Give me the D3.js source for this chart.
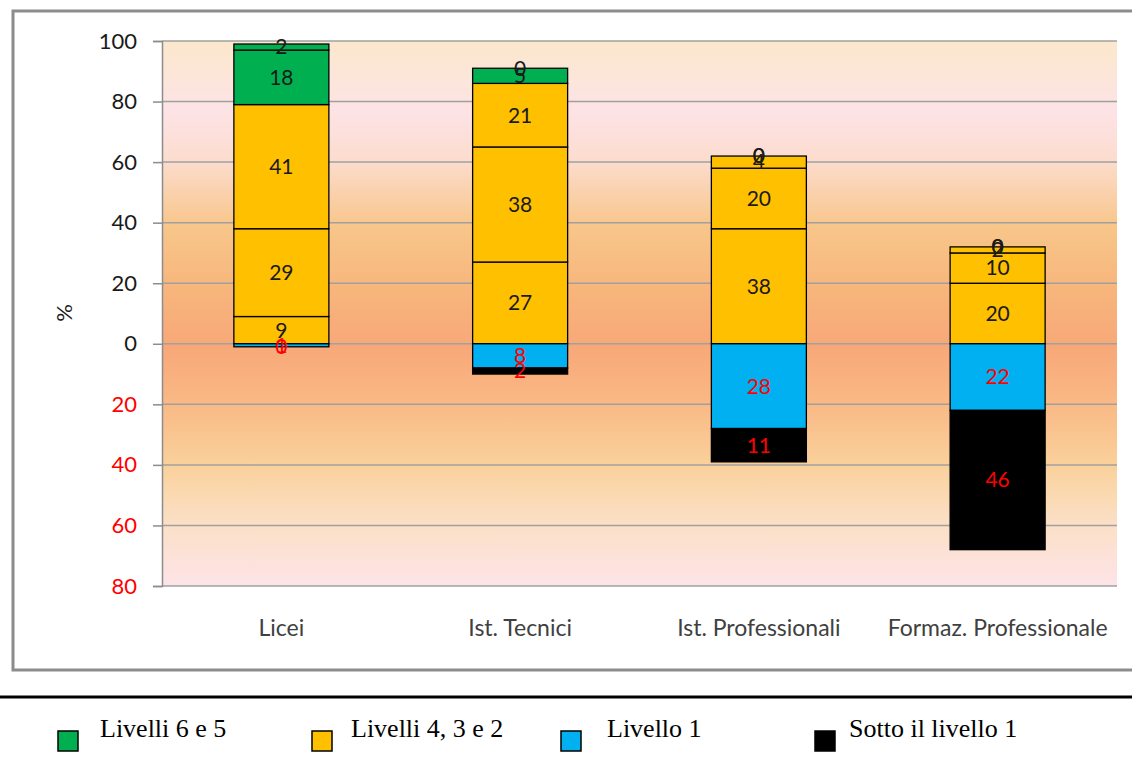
<!DOCTYPE html>
<html>
<head>
<meta charset="utf-8">
<script src="https://cdn.jsdelivr.net/npm/d3@7"></script>
<style>
  html, body { margin: 0; padding: 0; background: #fff; }
  svg { display: block; }
</style>
</head>
<body>
<svg id="chart" width="1132" height="769"></svg>
<script>
// Categories (school types)
const categories = ["Licei", "Ist. Tecnici", "Ist. Professionali", "Formaz. Professionale"];

// Positive stack, from the zero line upward: levels 2, 3, 4 (yellow) and 5, 6 (green)
const livello2 = [9, 27, 38, 20];
const livello3 = [29, 38, 20, 10];
const livello4 = [41, 21, 4, 2];
const livello5 = [18, 5, 0, 0];
const livello6 = [2, 0, 0, 0];

// Negative stack, from the zero line downward
const livello1 = [1, 8, 28, 22];
const sottoLivello1 = [0, 2, 11, 46];

// Axis ticks
const yTicks = [-80, -60, -40, -20, 0, 20, 40, 60, 80, 100];

// Legend entries
const legendLabels = ["Livelli 6 e 5", "Livelli 4, 3 e 2", "Livello 1", "Sotto il livello 1"];

const colors = { green: "#00b050", yellow: "#ffc000", blue: "#00b0f0", black: "#000000" };
const legendColors = [colors.green, colors.yellow, colors.blue, colors.black];

const positiveSeries = [
  { values: livello2, color: colors.yellow },
  { values: livello3, color: colors.yellow },
  { values: livello4, color: colors.yellow },
  { values: livello5, color: colors.green },
  { values: livello6, color: colors.green }
];
const negativeSeries = [
  { values: livello1, color: colors.blue },
  { values: sottoLivello1, color: colors.black }
];

const svg = d3.select("#chart");
const plot = { left: 162, right: 1117, top: 41, bottom: 586 };
const numFont = "Lato, 'Open Sans', sans-serif";

// Outer chart frame (its right side runs past the page edge)
svg.append("rect")
  .attr("x", 13).attr("y", 11).attr("width", 1130).attr("height", 659)
  .attr("fill", "#fff").attr("stroke", "#8c8c8c").attr("stroke-width", 3);

// Plot background gradient
const defs = svg.append("defs");
const grad = defs.append("linearGradient")
  .attr("id", "bg").attr("x1", 0).attr("y1", 0).attr("x2", 0).attr("y2", 1);
[
  [0.00, "#fbe8cc"],
  [0.13, "#fde3e6"],
  [0.22, "#fcdccd"],
  [0.34, "#f8c68a"],
  [0.45, "#f7b67c"],
  [0.56, "#f8a878"],
  [0.66, "#f9b884"],
  [0.78, "#fad19c"],
  [0.88, "#fbdfc4"],
  [1.00, "#fde4e8"]
].forEach(([o, c]) => grad.append("stop").attr("offset", o).attr("stop-color", c));

svg.append("rect")
  .attr("x", plot.left).attr("y", plot.top)
  .attr("width", plot.right - plot.left).attr("height", plot.bottom - plot.top)
  .attr("fill", "url(#bg)");

// Scales
const x = d3.scaleBand().domain(categories).range([plot.left, plot.right]);
const y = d3.scaleLinear().domain([-80, 100]).range([plot.bottom, plot.top]);
const barW = 95;

// Gridlines
svg.append("g")
  .selectAll("line")
  .data(yTicks)
  .join("line")
  .attr("x1", plot.left).attr("x2", plot.right)
  .attr("y1", d => y(d)).attr("y2", d => y(d))
  .attr("stroke", "#a0a0a0").attr("stroke-width", 1.5);

// Y axis
const yAxis = svg.append("g")
  .attr("transform", `translate(${plot.left},0)`)
  .call(d3.axisLeft(y).tickValues(yTicks).tickSize(9).tickPadding(16).tickFormat(d => Math.abs(d)));
yAxis.select(".domain").attr("stroke", "#8c8c8c").attr("stroke-width", 1.5);
yAxis.selectAll(".tick line").attr("stroke", "#8c8c8c").attr("stroke-width", 1.5);
yAxis.selectAll(".tick text")
  .attr("font-family", numFont).attr("font-size", 22)
  .attr("fill", d => d < 0 ? "#ff0000" : "#1a1a1a");

// Y axis title
svg.append("text")
  .attr("transform", "translate(72,313) rotate(-90)")
  .attr("text-anchor", "middle")
  .attr("font-family", numFont).attr("font-size", 22).attr("fill", "#1a1a1a")
  .text("%");

// Category labels
svg.append("g")
  .selectAll("text")
  .data(categories)
  .join("text")
  .attr("x", d => x(d) + x.bandwidth() / 2)
  .attr("y", 636)
  .attr("text-anchor", "middle")
  .attr("font-family", numFont).attr("font-size", 23).attr("fill", "#404040")
  .text(d => d);

// Build segment list from the stacks
const segments = [];
categories.forEach((cat, i) => {
  let base = 0;
  positiveSeries.forEach(s => {
    const v = s.values[i];
    segments.push({ cat, y0: base, y1: base + v, value: v, color: s.color, neg: false });
    base += v;
  });
  base = 0;
  negativeSeries.forEach(s => {
    const v = s.values[i];
    segments.push({ cat, y0: base, y1: base - v, value: v, color: s.color, neg: true });
    base -= v;
  });
});

const barX = d => x(d.cat) + x.bandwidth() / 2 - barW / 2;

svg.append("g")
  .selectAll("rect")
  .data(segments)
  .join("rect")
  .attr("x", barX)
  .attr("width", barW)
  .attr("y", d => y(Math.max(d.y0, d.y1)))
  .attr("height", d => Math.abs(y(d.y0) - y(d.y1)))
  .attr("fill", d => d.color)
  .attr("stroke", "#000").attr("stroke-width", 1.3);

// Value labels centred on each segment
svg.append("g")
  .selectAll("text")
  .data(segments)
  .join("text")
  .attr("x", d => x(d.cat) + x.bandwidth() / 2)
  .attr("y", d => y((d.y0 + d.y1) / 2))
  .attr("dy", "0.35em")
  .attr("text-anchor", "middle")
  .attr("font-family", numFont).attr("font-size", 21)
  .attr("fill", d => d.neg ? "#ff0000" : "#1a1a1a")
  .text(d => d.value);

// Separator line above the legend
svg.append("line")
  .attr("x1", 0).attr("x2", 1132).attr("y1", 697).attr("y2", 697)
  .attr("stroke", "#000").attr("stroke-width", 3);

// Legend
const legendX = [58, 312, 561, 815];
const legend = svg.append("g")
  .selectAll("g")
  .data(legendLabels)
  .join("g")
  .attr("transform", (d, i) => `translate(${legendX[i]},731)`);
legend.append("rect")
  .attr("width", 20).attr("height", 20)
  .attr("fill", (d, i) => legendColors[i])
  .attr("stroke", "#000").attr("stroke-width", 1.5);
legend.append("text")
  .attr("x", (d, i) => [42, 39, 46, 34][i])
  .attr("y", 6)
  .attr("font-family", "'Liberation Serif', 'Times New Roman', serif")
  .attr("font-size", 26).attr("fill", "#000")
  .text(d => d);
</script>
</body>
</html>
